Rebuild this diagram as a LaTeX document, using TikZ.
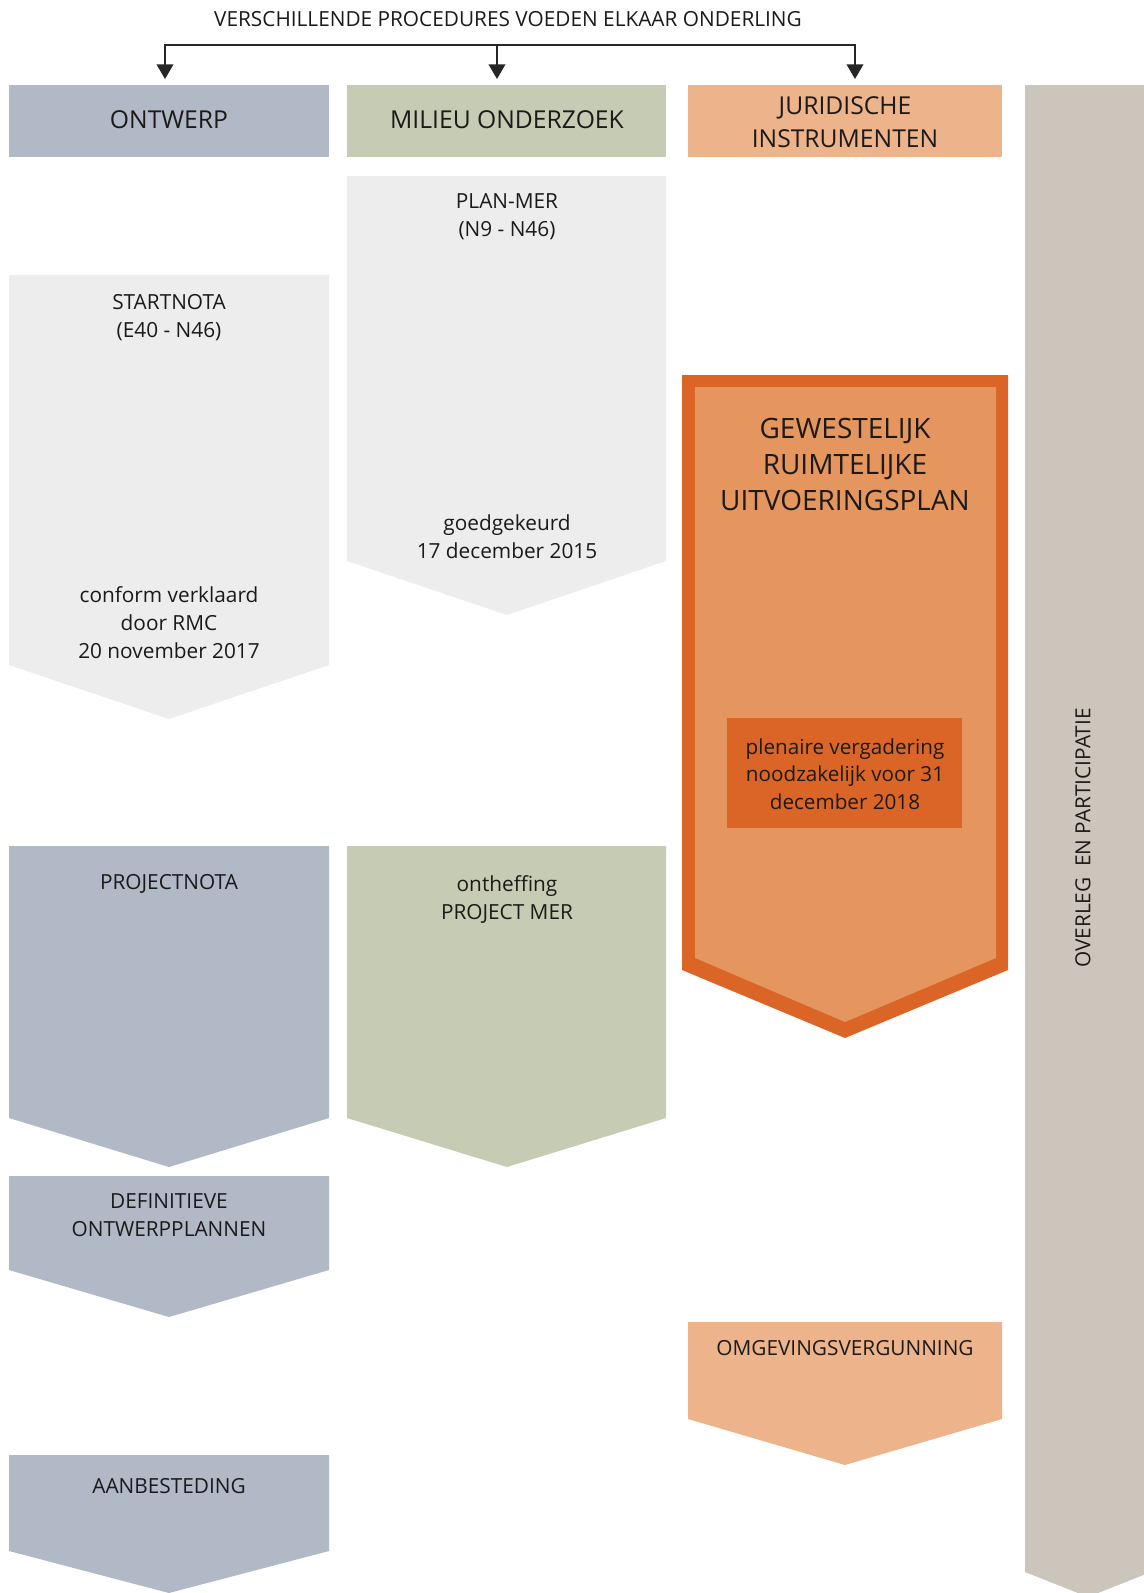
\documentclass[tikz,border=0pt]{standalone}
\usepackage{fontspec}
\setmainfont{Open Sans}
\usetikzlibrary{arrows.meta}

\definecolor{ontwerpblauw}{HTML}{B1B8C6}
\definecolor{milieugroen}{HTML}{C6CBB3}
\definecolor{juridischoranje}{HTML}{EDB38B}
\definecolor{lichtgrijs}{HTML}{EDEDED}
\definecolor{grupdonker}{HTML}{DA6526}
\definecolor{gruplicht}{HTML}{E5955E}
\definecolor{overleggrijs}{HTML}{CCC5BB}
\definecolor{tekstkleur}{HTML}{1C1A18}

\tikzset{every picture/.style={line width=0.75pt}}
\tikzset{
  tekst/.style={font=\fontsize{15.6}{21}\selectfont, align=center, text=tekstkleur, inner sep=0pt},
  kop/.style={font=\fontsize{18.5}{25}\selectfont, align=center, text=tekstkleur, inner sep=0pt},
  groot/.style={font=\fontsize{21}{27}\selectfont, align=center, text=tekstkleur, inner sep=0pt},
  haak/.style={line width=1.3pt, color=black!85, {Triangle[width=12.5pt,length=11pt]}-{Triangle[width=12.5pt,length=11pt]}},
  neer/.style={line width=1.3pt, color=black!85, -{Triangle[width=12.5pt,length=11pt]}}
}

\begin{document}
\begin{tikzpicture}[x=0.75pt,y=0.75pt,yscale=-1,xscale=1]
\useasboundingbox (0,0) rectangle (1144,1593);
\clip (0,0) rectangle (1144,1593);

%Shape: Header boxes
\fill [ontwerpblauw] (9,85) -- (329,85) -- (329,157) -- (9,157) -- cycle ;
\fill [milieugroen] (347,85) -- (666,85) -- (666,157) -- (347,157) -- cycle ;
\fill [juridischoranje] (688,85) -- (1002,85) -- (1002,157) -- (688,157) -- cycle ;
%Shape: Overleg bar
\fill [overleggrijs] (1025,85) -- (1151,85) -- (1151,1572) -- (1088,1597) -- (1025,1572) -- cycle ;

%Shape: Startnota
\fill [lichtgrijs] (9,275) -- (329,275) -- (329,665) -- (169,719) -- (9,665) -- cycle ;
%Shape: Projectnota
\fill [ontwerpblauw] (9,846) -- (329,846) -- (329,1118) -- (169,1167) -- (9,1118) -- cycle ;
%Shape: Definitieve ontwerpplannen
\fill [ontwerpblauw] (9,1176) -- (329,1176) -- (329,1270) -- (169,1317) -- (9,1270) -- cycle ;
%Shape: Aanbesteding
\fill [ontwerpblauw] (9,1455) -- (329,1455) -- (329,1551) -- (169,1593) -- (9,1551) -- cycle ;

%Shape: Plan-MER
\fill [lichtgrijs] (347,176) -- (666,176) -- (666,561) -- (507,615) -- (347,561) -- cycle ;
%Shape: Project MER
\fill [milieugroen] (347,846) -- (666,846) -- (666,1118) -- (507,1167) -- (347,1118) -- cycle ;

%Shape: GRUP
\fill [grupdonker] (682,375) -- (1008,375) -- (1008,970) -- (845,1038) -- (682,970) -- cycle ;
\fill [gruplicht] (695,387) -- (996,387) -- (996,958) -- (845,1022) -- (695,958) -- cycle ;
\fill [grupdonker] (727,718) -- (962,718) -- (962,828) -- (727,828) -- cycle ;
%Shape: Omgevingsvergunning
\fill [juridischoranje] (688,1322) -- (1002,1322) -- (1002,1419) -- (845,1465) -- (688,1419) -- cycle ;

% Text Node
\node [tekst] (titel) at (508,19) {VERSCHILLENDE PROCEDURES VOEDEN ELKAAR ONDERLING};
% Bracket
\coordinate (haakL) at (165,45);
\coordinate (haakM) at (497,45);
\coordinate (haakR) at (855,45);
\coordinate (naarL) at (165,79);
\coordinate (naarM) at (497,79);
\coordinate (naarR) at (855,79);
\draw [haak] (naarL) -- (haakL) -- (haakR) -- (naarR) ;
\draw [neer] (haakM) -- (naarM) ;

% Text Node
\node [kop] (ontwerp) at (169,120) {ONTWERP};
% Text Node
\node [kop] (milieu) at (507,120) {MILIEU ONDERZOEK};
% Text Node
\node [kop] (juridisch) at (845,122) {JURIDISCHE\\INSTRUMENTEN};
% Text Node
\node [tekst, rotate=90] (overleg) at (1083,838) {OVERLEG~ EN PARTICIPATIE};

% Text Node
\node [tekst] (startnota) at (169,318) {STARTNOTA\\(E40 - N46)};
% Text Node
\node [tekst] (conform) at (169,623) {conform verklaard\\door RMC\\20 november 2017};
% Text Node
\node [tekst] (projectnota) at (169,884) {PROJECTNOTA};
% Text Node
\node [tekst] (definitief) at (169,1215) {DEFINITIEVE\\ONTWERPPLANNEN};
% Text Node
\node [tekst] (aanbesteding) at (169,1486) {AANBESTEDING};

% Text Node
\node [tekst] (planmer) at (507,217) {PLAN-MER\\(N9 - N46)};
% Text Node
\node [tekst] (goedgekeurd) at (507,537) {goedgekeurd\\17 december 2015};
% Text Node
\node [tekst] (projectmer) at (507,899) {ontheffing\\PROJECT MER};

% Text Node
\node [groot] (grup) at (845,464) {GEWESTELIJK\\RUIMTELIJKE\\UITVOERINGSPLAN};
% Text Node
\node [tekst, font=\fontsize{15.5}{20.6}\selectfont] (plenair) at (845,774) {plenaire vergadering\\noodzakelijk voor 31\\december 2018};
% Text Node
\node [tekst] (vergunning) at (845,1348) {OMGEVINGSVERGUNNING};

\end{tikzpicture}
\end{document}
